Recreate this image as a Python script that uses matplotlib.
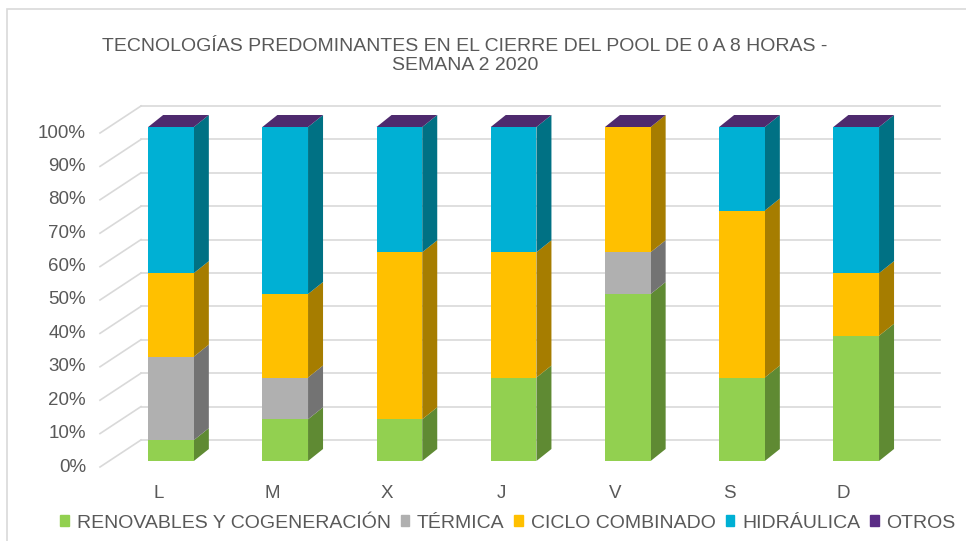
import numpy as np
import matplotlib
matplotlib.use('Agg')
import matplotlib.pyplot as plt
from matplotlib.patches import Polygon, Patch, Rectangle

plt.rcParams['font.family'] = ['Liberation Sans', 'DejaVu Sans']

dias = ['L', 'M', 'X', 'J', 'V', 'S', 'D']
series = ['RENOVABLES Y COGENERACIÓN', 'TÉRMICA', 'CICLO COMBINADO', 'HIDRÁULICA', 'OTROS']
renovables = [6.25, 12.5, 12.5, 25.0, 50.0, 25.0, 37.5]
termica    = [25.0, 12.5, 0.0, 0.0, 12.5, 0.0, 0.0]
ciclo      = [25.0, 25.0, 50.0, 37.5, 37.5, 50.0, 18.75]
hidraulica = [43.75, 50.0, 37.5, 37.5, 0.0, 25.0, 43.75]
otros      = [0.0, 0.0, 0.0, 0.0, 0.0, 0.0, 0.0]
ticks = [0, 10, 20, 30, 40, 50, 60, 70, 80, 90, 100]

front = ['#92D050', '#B0B0B0', '#FFC000', '#00B0D4', '#5B2D86']
side  = ['#5F8A33', '#737373', '#A67D00', '#007184', '#3B1D57']
top_c = '#4E2A6E'
grid_c = '#D9D9D9'
txt_c = '#595959'

W, H = 966, 541
fig = plt.figure(figsize=(W / 100, H / 100), dpi=100)
ax = fig.add_axes([0, 0, 1, 1])
# data coords: x = category index, y = percent on the bar front plane
px_x, px_y = 114.2, 3.34
x0, y0 = 171, 461
ax.set_xlim(-x0 / px_x, (W - x0) / px_x)
ax.set_ylim((y0 - H) / px_y, y0 / px_y)
ax.axis('off')

# chart border
fig.patches.append(Rectangle((7 / W, -0.1), 1.2, 1 - 9 / H + 0.1, transform=fig.transFigure,
                             fill=False, ec=grid_c, lw=1.2))

# walls / gridlines
wall_fx, wall_fy = (100 - x0) / px_x, -6 / px_y
wall_bx, wall_by = (141 - x0) / px_x, 21 / px_y
grid_end = (940 - x0) / px_x
for t in ticks:
    ax.plot([wall_bx, grid_end], [t + wall_by, t + wall_by], color=grid_c, lw=1.2, zorder=1)
    ax.plot([wall_fx, wall_bx], [t + wall_fy, t + wall_by], color=grid_c, lw=1.2, zorder=1)
    ax.text((86 - x0) / px_x, t + wall_fy, f'{t}%', ha='right', va='center',
            fontsize=13.5, color=txt_c)

# 3D-like bars
w = 0.40
ddx, ddy = 15 / px_x, 12 / px_y
data = [renovables, termica, ciclo, hidraulica, otros]
x = np.arange(len(dias))
bottom = np.zeros(len(dias))
for k, vals in enumerate(data):
    vals = np.array(vals)
    ax.bar(x, vals, w, bottom=bottom, color=front[k], zorder=3, linewidth=0)
    for i in range(len(dias)):
        if vals[i] <= 0:
            continue
        xr = x[i] + w / 2
        b, t = bottom[i], bottom[i] + vals[i]
        ax.add_patch(Polygon([(xr, b), (xr + ddx, b + ddy), (xr + ddx, t + ddy), (xr, t)],
                             closed=True, fc=side[k], ec='none', zorder=2))
    bottom = bottom + vals

for i in range(len(dias)):
    xl, xr, t = x[i] - w / 2, x[i] + w / 2, bottom[i]
    ax.add_patch(Polygon([(xl, t), (xl + ddx, t + ddy), (xr + ddx, t + ddy), (xr, t)],
                         closed=True, fc=top_c, ec='none', zorder=4))
    ax.text(x[i] - 0.11, (y0 - 493) / px_y, dias[i], ha='center', va='center',
            fontsize=13.5, color=txt_c)

fig.text(465 / W, 1 - 56 / H,
         'TECNOLOGÍAS PREDOMINANTES EN EL CIERRE DEL POOL DE 0 A 8 HORAS -\nSEMANA 2 2020',
         ha='center', va='center', multialignment='center', fontsize=14, color=txt_c,
         linespacing=1.2)

handles = [Patch(color=front[k], label=series[k]) for k in range(len(series))]
fig.legend(handles=handles, loc='center', bbox_to_anchor=(508 / W, 1 - 523 / H), ncol=5,
           frameon=False, fontsize=14, labelcolor=txt_c, handlelength=0.45, handleheight=0.45,
           handletextpad=0.4, columnspacing=0.5, borderpad=0)

fig.savefig('out.png', dpi=100)
